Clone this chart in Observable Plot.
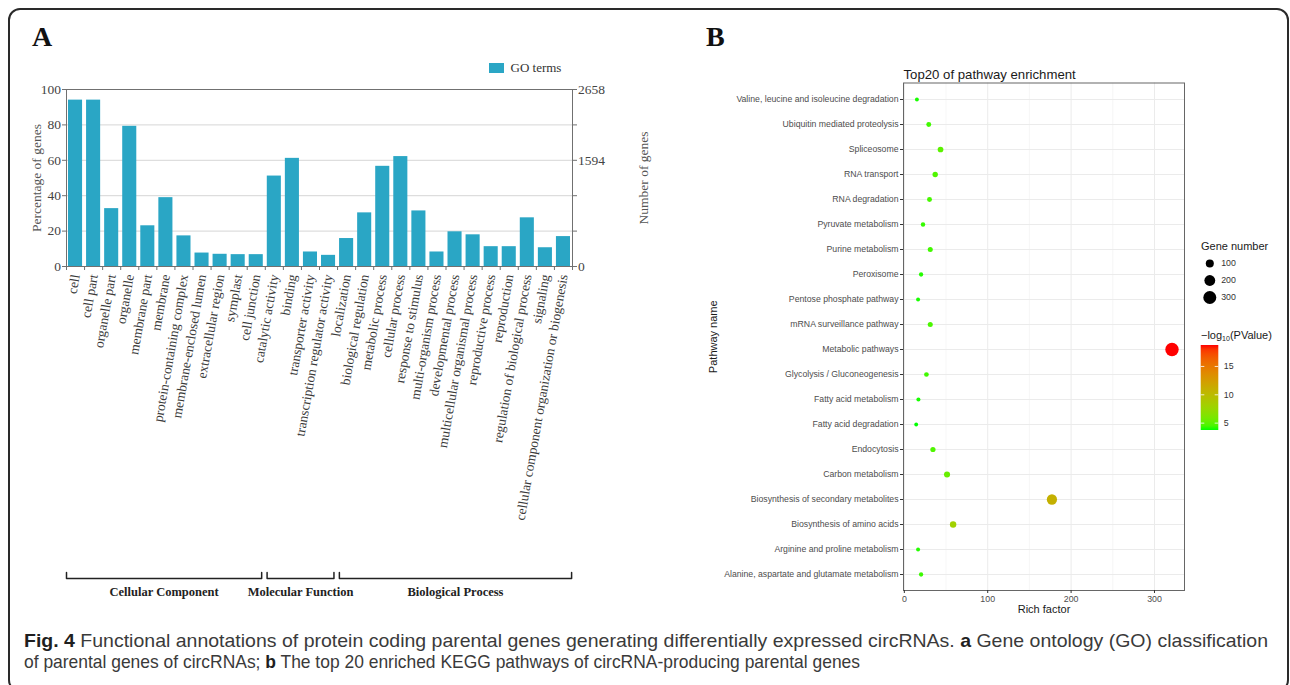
<!DOCTYPE html>
<html><head><meta charset="utf-8">
<script src="https://cdn.jsdelivr.net/npm/d3@7"></script>
<script src="https://cdn.jsdelivr.net/npm/@observablehq/plot@0.6"></script>
<style>
html,body{margin:0;padding:0;background:#fff;width:1290px;height:685px;overflow:hidden;}
#root{position:relative;width:1290px;height:685px;overflow:hidden;}
#frame{position:absolute;left:8px;top:8px;width:1281px;height:684px;border:2px solid #2a2a2a;border-radius:12px;box-sizing:border-box;}
.box{position:absolute;}
.panel{position:absolute;font-family:"Liberation Serif","DejaVu Serif",serif;font-weight:bold;font-size:28px;line-height:28px;color:#111;}
.ltitle{position:absolute;font-family:"Liberation Sans",Arial,sans-serif;font-size:11px;color:#1a1a1a;white-space:nowrap;line-height:13px;}
.ltitle sub{font-size:7px;vertical-align:-2px;}
.cap{position:absolute;left:24px;white-space:nowrap;font-family:"Liberation Sans",Arial,sans-serif;font-size:19px;color:#3a3a3a;line-height:21.5px;height:21.5px;transform-origin:0 0;}
.cap b{color:#1f1f1f;font-weight:700;}
</style></head>
<body><div id="root"><div id="frame"></div></div>
<script>
// ---------- Data: panel A (GO classification) ----------
const goTerms = ["cell","cell part","organelle part","organelle","membrane part","membrane","protein-containing complex","membrane-enclosed lumen","extracellular region","symplast","cell junction","catalytic activity","binding","transporter activity","transcription regulator activity","localization","biological regulation","metabolic process","cellular process","response to stimulus","multi-organism process","developmental process","multicellular organismal process","reproductive process","reproduction","regulation of biological process","signaling","cellular component organization or biogenesis"];
const goPercent = [94, 94, 32.7, 79.2, 23, 38.9, 17.3, 7.6, 6.9, 6.7, 6.7, 51.1, 61.1, 8.2, 6.3, 15.8, 30.3, 56.6, 62.1, 31.4, 8.2, 19.6, 17.9, 11.2, 11.2, 27.5, 10.6, 16.9];
const leftTickValues = [0, 20, 40, 60, 80, 100];
const rightTickValues = [0, 20, 40, 60, 80, 100];
const rightTickLabels = ["0", "", "", "1594", "", "2658"];
const goGroups = ["Cellular Component", "Molecular Function", "Biological Process"];
const goGroupFrom = [0, 11.1, 15.1];
const goGroupTo = [10.8, 14.8, 27.95];
const goLegend = ["GO terms"];

// ---------- Data: panel B (KEGG enrichment) ----------
const pathways = ["Valine, leucine and isoleucine degradation","Ubiquitin mediated proteolysis","Spliceosome","RNA transport","RNA degradation","Pyruvate metabolism","Purine metabolism","Peroxisome","Pentose phosphate pathway","mRNA surveillance pathway","Metabolic pathways","Glycolysis / Gluconeogenesis","Fatty acid metabolism","Fatty acid degradation","Endocytosis","Carbon metabolism","Biosynthesis of secondary metabolites","Biosynthesis of amino acids","Arginine and proline metabolism","Alanine, aspartate and glutamate metabolism"];
const richFactor = [15.1, 29.3, 43.4, 37, 30.2, 22.4, 31.1, 20.1, 16.5, 31.1, 321, 26.5, 16.9, 14.2, 34.3, 51.2, 177, 58.5, 16.5, 20.1];
const geneNumber = [15, 29, 43, 37, 30, 22, 31, 20, 16, 31, 321, 26, 17, 14, 34, 51, 177, 58, 16, 20];
const negLog10P = [3.8, 4.3, 4.9, 4.6, 4.4, 4.1, 4.3, 3.9, 3.8, 4.5, 18.7, 4.3, 3.8, 3.7, 4.6, 5.3, 10.8, 8.0, 3.9, 4.2];
const xTicksB = [0, 100, 200, 300];
const xMinorB = [50, 150, 250];
const sizeLegendValues = [100, 200, 300];
const colorTicks = [5, 10, 15];

// ---------- Styles ----------
const SERIF = '"Liberation Serif","DejaVu Serif",serif';
const SANS = '"Liberation Sans",Arial,sans-serif';
const barColor = "#2aa6c5";
const root = document.getElementById("root");
function place(node, left, top, w, h) {
  const d = document.createElement("div");
  d.className = "box";
  d.style.cssText = `left:${left}px;top:${top}px;width:${w}px;height:${h}px;`;
  d.appendChild(node);
  root.appendChild(d);
  return d;
}

// ---------- Panel A ----------
const A_W = 680, A_H = 620, A_ML = 66, A_MR = 108, A_MT = 89, A_MB = 354;
const pxPerUnit = (A_H - A_MT - A_MB) / 100;
const yOff = px => -px / pxPerUnit; // pixel offset below baseline -> data units
const rightMap = new Map(rightTickValues.map((v, i) => [v, rightTickLabels[i]]));
const bracketPts = [];
goGroups.forEach((g, i) => {
  bracketPts.push({g, x: goGroupFrom[i], y: yOff(306)});
  bracketPts.push({g, x: goGroupFrom[i], y: yOff(312)});
  bracketPts.push({g, x: goGroupTo[i], y: yOff(312)});
  bracketPts.push({g, x: goGroupTo[i], y: yOff(306)});
});

const chartA = Plot.plot({
  width: A_W, height: A_H,
  marginLeft: A_ML, marginRight: A_MR, marginTop: A_MT, marginBottom: A_MB,
  x: {type: "linear", domain: [0, goTerms.length]},
  y: {type: "linear", domain: [0, 100]},
  style: {fontFamily: SERIF, background: "transparent", color: "#444", overflow: "visible"},
  marks: [
    Plot.gridY([20, 40, 60, 80], {stroke: "#d6d6d6", strokeOpacity: 1}),
    Plot.rect(goTerms, {x1: (d, i) => i, x2: (d, i) => i + 1, y1: 0, y2: (d, i) => goPercent[i], fill: barColor, insetLeft: 2, insetRight: 2}),
    Plot.frame({stroke: "#707070"}),
    Plot.axisY(leftTickValues, {anchor: "left", tickSize: 4, tickPadding: 1.5, fontSize: 13.5, label: null, stroke: "#707070", fill: "#444"}),
    Plot.axisY(rightTickValues, {anchor: "right", tickSize: 4, tickPadding: 1.5, fontSize: 13.5, label: null, tickFormat: d => rightMap.get(d), stroke: "#707070", fill: "#444"}),
    Plot.axisX(d3.range(0, goTerms.length + 1), {anchor: "bottom", tickSize: 4, tickFormat: () => "", label: null, stroke: "#707070"}),
    Plot.text(goTerms, {x: (d, i) => i + 0.5, y: 0, text: d => d, rotate: -80, textAnchor: "end", dy: 8, fontSize: 13.5, fill: "#3a3a3a"}),
    Plot.line(bracketPts, {x: "x", y: "y", z: "g", stroke: "#222", strokeWidth: 1.5}),
    Plot.text(goGroups, {x: (d, i) => (goGroupFrom[i] + goGroupTo[i]) / 2, y: 0, dy: 325, text: d => d, fontWeight: "bold", fontSize: 12.5, fill: "#222"}),
    Plot.text(["Percentage of genes"], {text: d => d, frameAnchor: "left", textAnchor: "middle", rotate: -90, dx: -30, fontSize: 13.5, fill: "#555"}),
    Plot.text(["Number of genes"], {text: d => d, frameAnchor: "right", textAnchor: "middle", rotate: -90, dx: 71, fontSize: 13.5, fill: "#555"})
  ]
});
place(chartA, 0, 0, A_W, A_H);

const legA = Plot.legend({
  color: {type: "ordinal", domain: goLegend, range: [barColor]},
  legend: "swatches", swatchWidth: 15, swatchHeight: 10,
  style: {fontFamily: SERIF, fontSize: "13px", color: "#333", margin: "0"}
});
place(legA, 489, 51.5, 120, 34);

// Panel letters
const la = document.createElement("div"); la.className = "panel"; la.textContent = "A";
la.style.left = "32px"; la.style.top = "22.5px"; root.appendChild(la);
const lb = document.createElement("div"); lb.className = "panel"; lb.textContent = "B";
lb.style.left = "706px"; lb.style.top = "22.5px"; root.appendChild(lb);

// ---------- Panel B ----------
const rows = pathways.map((p, i) => ({pathway: p, rich: richFactor[i], genes: geneNumber[i], logp: negLog10P[i]}));
const cbMin = 3.7, cbMax = d3.max(negLog10P);
const colorSpec = {type: "linear", domain: [cbMin, cbMax], range: ["#00ff00", "#ff0000"], interpolate: "lab"};
const rSpec = {type: "pow", exponent: 0.5, domain: [d3.min(geneNumber), d3.max(geneNumber)], range: [1.9, 6.7]};

const B_W = 510, B_H = 580;
const chartB = Plot.plot({
  width: B_W, height: B_H,
  marginLeft: 213, marginRight: 16, marginTop: 32.5, marginBottom: 40,
  x: {domain: [-1, 336]},
  y: {type: "point", domain: pathways, padding: 0.6},
  color: colorSpec,
  r: rSpec,
  style: {fontFamily: SANS, background: "transparent", color: "#333", overflow: "visible"},
  marks: [
    Plot.gridX(xMinorB, {stroke: "#f0f0f0", strokeOpacity: 1, strokeWidth: 0.6}),
    Plot.gridX(xTicksB, {stroke: "#ebebeb", strokeOpacity: 1, strokeWidth: 1}),
    Plot.gridY(pathways, {stroke: "#ebebeb", strokeOpacity: 1, strokeWidth: 1}),
    Plot.dot(rows, {x: "rich", y: "pathway", r: "genes", fill: "logp"}),
    Plot.frame({stroke: "#666"}),
    Plot.axisX(xTicksB, {anchor: "bottom", tickSize: 3, tickPadding: 2, fontSize: 8.8, fill: "#4d4d4d", stroke: "#333", label: null}),
    Plot.axisY(pathways, {anchor: "left", tickSize: 3, tickPadding: 2, fontSize: 8.7, fill: "#4d4d4d", stroke: "#333", label: null}),
    Plot.text(["Top20 of pathway enrichment"], {text: d => d, frameAnchor: "top-left", textAnchor: "start", dy: -13.5, fontSize: 13.2, fill: "#1a1a1a"}),
    Plot.text(["Pathway name"], {text: d => d, frameAnchor: "left", textAnchor: "middle", rotate: -90, dx: -190, fontSize: 11, fill: "#1a1a1a"}),
    Plot.text(["Rich factor"], {text: d => d, frameAnchor: "bottom", textAnchor: "middle", dy: 22, fontSize: 11, fill: "#1a1a1a"})
  ]
});
place(chartB, 690, 50, B_W, B_H);

// Size legend
const sizeLeg = Plot.plot({
  width: 60, height: 55, marginLeft: 0, marginRight: 31.4, marginTop: 11.3, marginBottom: 9.7,
  x: {axis: null},
  y: {type: "point", domain: sizeLegendValues, padding: 0, axis: null},
  r: rSpec,
  style: {fontFamily: SANS, background: "transparent", overflow: "visible"},
  marks: [
    Plot.dot(sizeLegendValues, {y: d => d, r: d => d, fill: "#000"}),
    Plot.text(sizeLegendValues, {y: d => d, text: d => String(d), textAnchor: "start", dx: 11.4, fontSize: 8.8, fill: "#333"})
  ]
});
place(sizeLeg, 1195, 252, 60, 55);

// Colour bar
const cScale = Plot.scale({color: colorSpec});
const cbar = Plot.plot({
  width: 60, height: 105, marginLeft: 5.7, marginRight: 36.7, marginTop: 10, marginBottom: 10,
  y: {domain: [cbMin, cbMax]},
  style: {fontFamily: SANS, background: "transparent", overflow: "visible"},
  marks: [
    () => {
      const defs = d3.create("svg:defs");
      const g = defs.append("linearGradient").attr("id", "cbgrad").attr("x1", 0).attr("x2", 0).attr("y1", 1).attr("y2", 0);
      d3.range(0, 21).forEach(k => {
        const t = k / 20;
        g.append("stop").attr("offset", t).attr("stop-color", cScale.apply(cbMin + t * (cbMax - cbMin)));
      });
      return defs.node();
    },
    Plot.rect([0], {y1: cbMin, y2: cbMax, fill: "url(#cbgrad)"}),
    Plot.ruleY(colorTicks, {stroke: "white", strokeWidth: 0.8, insetRight: 14}),
    Plot.ruleY(colorTicks, {stroke: "white", strokeWidth: 0.8, insetLeft: 14}),
    Plot.axisY(colorTicks, {anchor: "right", tickSize: 0, tickPadding: 5, fontSize: 8.8, fill: "#333", label: null})
  ]
});
place(cbar, 1195, 335, 60, 105);

const t1 = document.createElement("div"); t1.className = "ltitle"; t1.textContent = "Gene number";
t1.style.left = "1201px"; t1.style.top = "240px"; root.appendChild(t1);
const t2 = document.createElement("div"); t2.className = "ltitle"; t2.innerHTML = "\u2212log<sub>10</sub>(PValue)";
t2.style.left = "1201px"; t2.style.top = "329px"; root.appendChild(t2);

// ---------- Caption ----------
const cap1 = document.createElement("div"); cap1.className = "cap"; cap1.style.top = "629.6px";
cap1.innerHTML = "<b>Fig. 4</b> Functional annotations of protein coding parental genes generating differentially expressed circRNAs. <b>a</b> Gene ontology (GO) classification";
const cap2 = document.createElement("div"); cap2.className = "cap"; cap2.style.top = "651.3px";
cap2.innerHTML = "of parental genes of circRNAs; <b>b</b> The top 20 enriched KEGG pathways of circRNA-producing parental genes";
root.appendChild(cap1); root.appendChild(cap2);
function fitCaption() {
  cap1.style.transform = "none"; cap2.style.transform = "none";
  const w1 = cap1.getBoundingClientRect().width;
  const w2 = cap2.getBoundingClientRect().width;
  cap1.style.transform = `scaleX(${1244 / w1})`;
  cap2.style.transform = `scaleX(${836 / w2})`;
}
fitCaption();
if (document.fonts && document.fonts.ready) document.fonts.ready.then(fitCaption);
</script>
</body></html>
